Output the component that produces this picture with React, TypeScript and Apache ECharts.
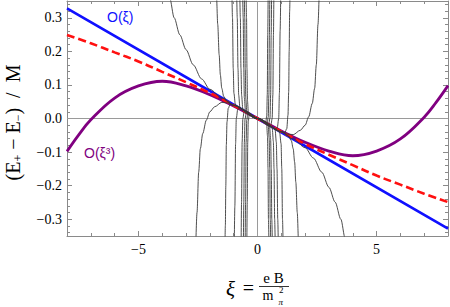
import React, { useEffect, useRef } from "react";
import * as echarts from "echarts";

const X_MIN = -8;
const X_MAX = 8;
const Y_MIN = -0.35;
const Y_MAX = 0.35;
const X_TICK_STEP = 5;
const Y_TICK_STEP = 0.1;

// O(xi): straight line
const blueXi = [-8, 0, 8];
const blueY = [0.328, 0, -0.328];

// exact result (red dashed)
const redXi = [-8, -7, -6, -5, -4, -3, -2, -1, 0, 1, 2, 3, 4, 5, 6, 7, 8];
const redY = [0.249, 0.224, 0.197, 0.17, 0.139, 0.108, 0.076, 0.039, 0, -0.039, -0.076, -0.108, -0.139, -0.17, -0.197, -0.224, -0.249];

// O(xi^3) (purple)
const purpleXi = [-8, -7.5, -7, -6, -5, -4, -3, -2, -1, 0, 1, 2, 3, 4, 5, 6, 7, 7.5, 8];
const purpleY = [-0.098, -0.048, -0.004, 0.061, 0.097, 0.111, 0.097, 0.071, 0.037, 0, -0.037, -0.071, -0.097, -0.111, -0.097, -0.061, 0.004, 0.048, 0.098];

// higher orders (thin dark curves), [xi, value]
const order5 = [[-3.74, 0.4], [-3.68, 0.357], [-3.5, 0.3], [-3.26, 0.249], [-3.0, 0.205], [-2.7, 0.16], [-2.35, 0.118], [-2.0, 0.087], [-1.5, 0.061], [-1.0, 0.04], [0, 0], [1.0, -0.04], [1.5, -0.061], [2.0, -0.087], [2.35, -0.118], [2.7, -0.16], [3.0, -0.205], [3.26, -0.249], [3.5, -0.3], [3.68, -0.357], [3.74, -0.4]];
const order7 = [[-2.6, -0.4], [-2.54, -0.28], [-2.47, -0.16], [-2.4, -0.09], [-2.3, -0.045], [-2.15, -0.005], [-2.0, 0.02], [-1.8, 0.035], [-1.5, 0.048], [-1.2, 0.046], [-1.0, 0.039], [0, 0], [1.0, -0.039], [1.2, -0.046], [1.5, -0.048], [1.8, -0.035], [2.0, -0.02], [2.15, 0.005], [2.3, 0.045], [2.4, 0.09], [2.47, 0.16], [2.54, 0.28], [2.6, 0.4]];
const order9 = [[-1.74, 0.4], [-1.72, 0.36], [-1.67, 0.28], [-1.61, 0.19], [-1.56, 0.13], [-1.5, 0.09], [-1.42, 0.066], [-1.3, 0.052], [-1.0, 0.039], [0, 0], [1.0, -0.039], [1.3, -0.052], [1.42, -0.066], [1.5, -0.09], [1.56, -0.13], [1.61, -0.19], [1.67, -0.28], [1.72, -0.36], [1.74, -0.4]];
const order11 = [[-1.37, -0.4], [-1.35, -0.32], [-1.33, -0.2], [-1.31, -0.08], [-1.28, -0.01], [-1.23, 0.03], [-1.15, 0.042], [-1.0, 0.039], [0, 0], [1.0, -0.039], [1.15, -0.042], [1.23, -0.03], [1.28, 0.01], [1.31, 0.08], [1.33, 0.2], [1.35, 0.32], [1.37, 0.4]];
const order13 = [[-1.08, 0.4], [-1.05, 0.3], [-1.02, 0.15], [-0.99, 0.075], [-0.93, 0.042], [-0.8, 0.032], [0, 0], [0.8, -0.032], [0.93, -0.042], [0.99, -0.075], [1.02, -0.15], [1.05, -0.3], [1.08, -0.4]];
const order15 = [[-0.98, -0.4], [-0.95, -0.26], [-0.92, -0.075], [-0.89, 0.0], [-0.83, 0.028], [-0.75, 0.03], [0, 0], [0.75, -0.03], [0.83, -0.028], [0.89, 0.0], [0.92, 0.075], [0.95, 0.26], [0.98, 0.4]];
const order17 = [[-0.88, 0.4], [-0.85, 0.3], [-0.82, 0.15], [-0.79, 0.07], [-0.74, 0.034], [-0.62, 0.025], [0, 0], [0.62, -0.025], [0.74, -0.034], [0.79, -0.07], [0.82, -0.15], [0.85, -0.3], [0.88, -0.4]];
const order19 = [[-0.75, 0.4], [-0.72, 0.3], [-0.695, 0.15], [-0.665, 0.068], [-0.62, 0.03], [-0.52, 0.021], [0, 0], [0.52, -0.021], [0.62, -0.03], [0.665, -0.068], [0.695, -0.15], [0.72, -0.3], [0.75, -0.4]];
const order21 = [[-0.69, -0.4], [-0.67, -0.25], [-0.645, -0.07], [-0.615, 0.0], [-0.56, 0.021], [-0.48, 0.019], [0, 0], [0.48, -0.019], [0.56, -0.021], [0.615, 0.0], [0.645, 0.07], [0.67, 0.25], [0.69, 0.4]];
const order23 = [[-0.63, 0.4], [-0.6, 0.3], [-0.578, 0.15], [-0.552, 0.062], [-0.51, 0.026], [-0.43, 0.018], [0, 0], [0.43, -0.018], [0.51, -0.026], [0.552, -0.062], [0.578, -0.15], [0.6, -0.3], [0.63, -0.4]];
const order25 = [[-0.595, -0.4], [-0.575, -0.25], [-0.552, -0.07], [-0.525, -0.002], [-0.47, 0.018], [-0.41, 0.016], [0, 0], [0.41, -0.016], [0.47, -0.018], [0.525, 0.002], [0.552, 0.07], [0.575, 0.25], [0.595, 0.4]];
const order27 = [[-0.56, 0.4], [-0.535, 0.3], [-0.515, 0.15], [-0.49, 0.058], [-0.45, 0.022], [-0.37, 0.015], [0, 0], [0.37, -0.015], [0.45, -0.022], [0.49, -0.058], [0.515, -0.15], [0.535, -0.3], [0.56, -0.4]];
const order29 = [[-0.52, -0.4], [-0.5, -0.25], [-0.478, -0.07], [-0.452, -0.005], [-0.405, 0.015], [-0.35, 0.014], [0, 0], [0.35, -0.014], [0.405, -0.015], [0.452, 0.005], [0.478, 0.07], [0.5, 0.25], [0.52, 0.4]];
const order31 = [[-0.485, 0.4], [-0.46, 0.3], [-0.442, 0.15], [-0.42, 0.052], [-0.385, 0.019], [-0.31, 0.012], [0, 0], [0.31, -0.012], [0.385, -0.019], [0.42, -0.052], [0.442, -0.15], [0.46, -0.3], [0.485, -0.4]];
const order33 = [[-0.45, -0.4], [-0.43, -0.25], [-0.41, -0.07], [-0.388, -0.008], [-0.345, 0.012], [-0.29, 0.011], [0, 0], [0.29, -0.011], [0.345, -0.012], [0.388, 0.008], [0.41, 0.07], [0.43, 0.25], [0.45, 0.4]];

const thinCurves = [order5, order7, order9, order11, order13, order15, order17, order19, order21, order23, order25, order27, order29, order31, order33];

const SERIF = "Liberation Serif";
const SANS = "Liberation Sans";
const FRAME = "#8a8a8a";

const minus = (s: string) => s.replace("-", "\u2212");
const fmtY = (v: number) => (Math.abs(v) < 1e-9 ? "0.0" : minus(v.toFixed(1)));
const fmtX = (v: number) => minus(String(Math.round(v)));

function zip(xs: number[], ys: number[]) {
  return xs.map((x, i) => [x, ys[i]]);
}

function baseX(position: "bottom" | "top", showLabel: boolean) {
  return {
    type: "value",
    position,
    min: X_MIN,
    max: X_MAX,
    minInterval: X_TICK_STEP,
    maxInterval: X_TICK_STEP,
    axisLine: { show: true, onZero: false, lineStyle: { color: FRAME, width: 1 } },
    axisTick: { show: true, inside: true, length: 5, lineStyle: { color: FRAME, width: 1 } },
    minorTick: { show: true, splitNumber: 5, length: 3, lineStyle: { color: FRAME, width: 1 } },
    splitLine: { show: false },
    axisLabel: {
      show: showLabel,
      showMinLabel: false,
      showMaxLabel: false,
      formatter: fmtX,
      fontFamily: SERIF,
      fontSize: 14,
      color: "#000",
      margin: 6,
    },
  };
}

function baseY(position: "left" | "right", showLabel: boolean) {
  return {
    type: "value",
    position,
    min: Y_MIN,
    max: Y_MAX,
    minInterval: Y_TICK_STEP,
    maxInterval: Y_TICK_STEP,
    axisLine: { show: true, onZero: false, lineStyle: { color: FRAME, width: 1 } },
    axisTick: { show: true, inside: true, length: 5, lineStyle: { color: FRAME, width: 1 } },
    minorTick: { show: true, splitNumber: 5, length: 3, lineStyle: { color: FRAME, width: 1 } },
    splitLine: { show: false },
    axisLabel: {
      show: showLabel,
      showMinLabel: false,
      showMaxLabel: false,
      formatter: fmtY,
      fontFamily: SERIF,
      fontSize: 14,
      color: "#000",
      margin: 5,
    },
  };
}

export default function App() {
  const ref = useRef<HTMLDivElement>(null);
  useEffect(() => {
    if (!ref.current) return;
    const chart = echarts.init(ref.current, null, { renderer: "svg" });
    const series: any[] = [
      {
        type: "line",
        data: [[X_MIN, 0], [X_MAX, 0]],
        showSymbol: false,
        silent: true,
        lineStyle: { color: "#9a9a9a", width: 1 },
        z: 1,
      },
      {
        type: "line",
        data: [[0, Y_MIN], [0, Y_MAX]],
        showSymbol: false,
        silent: true,
        lineStyle: { color: "#9a9a9a", width: 1 },
        z: 1,
      },
      {
        name: "O(xi)",
        type: "line",
        data: zip(blueXi, blueY),
        showSymbol: false,
        lineStyle: { color: "#1010ff", width: 2.6 },
        z: 2,
      },
      {
        name: "O(xi^3)",
        type: "line",
        data: zip(purpleXi, purpleY),
        smooth: 0.4,
        showSymbol: false,
        lineStyle: { color: "#800080", width: 2.8 },
        z: 3,
      },
      {
        name: "exact",
        type: "line",
        data: zip(redXi, redY),
        smooth: 0.4,
        showSymbol: false,
        lineStyle: { color: "#ff1010", width: 2.6, type: [8, 4] },
        z: 4,
      },
      ...thinCurves.map((c, i) => ({
        name: "order" + (5 + 2 * i),
        type: "line",
        data: c,
        smooth: 0.3,
        smoothMonotone: "x",
        showSymbol: false,
        lineStyle: { color: "#3a3a3a", width: 0.9 },
        z: 5,
      })),
    ];

    chart.setOption({
      animation: false,
      grid: { left: 67, right: 2, top: 1, bottom: 71 },
      xAxis: [baseX("bottom", true), baseX("top", false)],
      yAxis: [baseY("left", true), baseY("right", false)],
      series,
      graphic: [
        {
          type: "text",
          x: 107,
          y: 17,
          style: {
            text: "O(\u03BE)",
            fontFamily: SANS,
            fontSize: 14,
            fill: "#1010ff",
            align: "left",
            verticalAlign: "middle",
          },
        },
        {
          type: "text",
          x: 84,
          y: 153,
          style: {
            text: "O(\u03BE\u00B3)",
            fontFamily: SANS,
            fontSize: 14,
            fill: "#800080",
            align: "left",
            verticalAlign: "middle",
          },
        },
        {
          type: "text",
          x: 13,
          y: 122.5,
          rotation: Math.PI / 2,
          style: {
            text: "(E{sub|+} \u2212 E{sub|\u2212})  /  M",
            fontFamily: SERIF,
            fontSize: 20,
            fill: "#000",
            align: "center",
            verticalAlign: "middle",
            rich: {
              sub: { fontFamily: SERIF, fontSize: 12, padding: [9, 0, 0, 0], fill: "#000" },
            },
          },
        },
        {
          type: "text",
          x: 230.5,
          y: 289,
          style: { text: "\u03BE", fontFamily: SERIF, fontStyle: "italic", fontSize: 21, fill: "#000", align: "center", verticalAlign: "middle" },
        },
        {
          type: "text",
          x: 248.5,
          y: 288,
          style: { text: "=", fontFamily: SERIF, fontSize: 20, fill: "#000", align: "center", verticalAlign: "middle" },
        },
        {
          type: "text",
          x: 273.5,
          y: 277.5,
          style: { text: "e B", fontFamily: SERIF, fontSize: 15, fill: "#000", align: "center", verticalAlign: "middle" },
        },
        {
          type: "line",
          shape: { x1: 259, y1: 286.5, x2: 289, y2: 286.5 },
          style: { stroke: "#000", lineWidth: 0.8 },
        },
        {
          type: "text",
          x: 268,
          y: 295,
          style: { text: "m", fontFamily: SERIF, fontSize: 14, fill: "#000", align: "center", verticalAlign: "middle" },
        },
        {
          type: "text",
          x: 279,
          y: 290,
          style: { text: "2", fontFamily: SERIF, fontSize: 9, fill: "#000", align: "left", verticalAlign: "middle" },
        },
        {
          type: "text",
          x: 278.5,
          y: 301.5,
          style: { text: "\u03C0", fontFamily: SERIF, fontStyle: "italic", fontSize: 9, fill: "#000", align: "left", verticalAlign: "middle" },
        },
      ],
    });
    return () => chart.dispose();
  }, []);
  return <div ref={ref} style={{ position: "absolute", left: 0, top: 0, width: 450, height: 307 }} />;
}
